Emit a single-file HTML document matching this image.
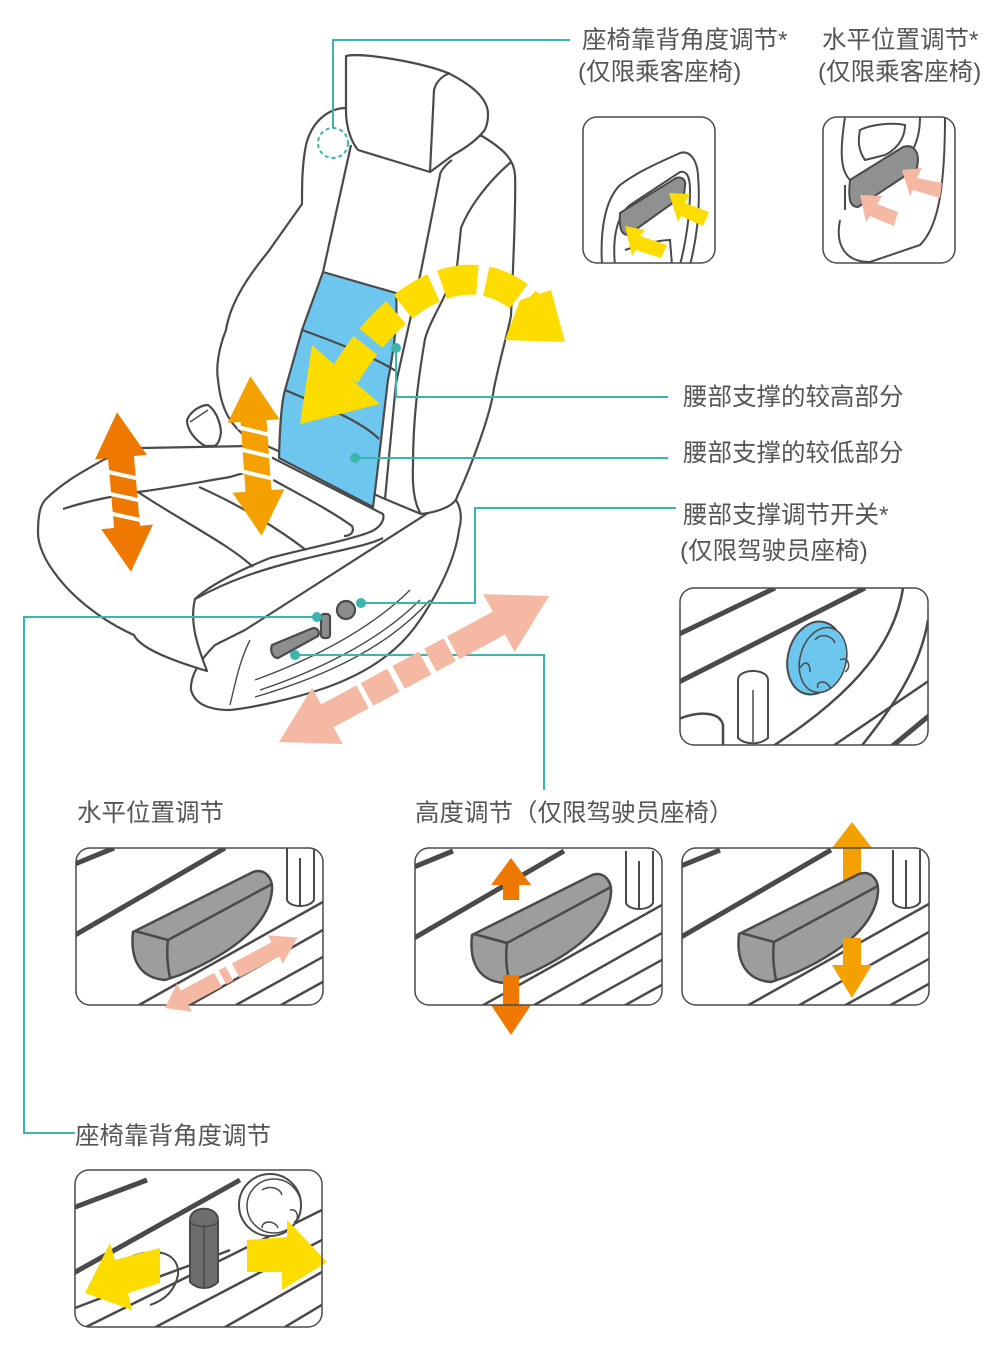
<!DOCTYPE html>
<html><head><meta charset="utf-8"><style>
html,body{margin:0;padding:0;background:#fff;}
svg{display:block;}
text{font-family:"Liberation Sans","Noto Sans CJK SC",sans-serif;fill:#555;font-size:24.5px;}
</style></head><body>
<svg width="1001" height="1348" viewBox="0 0 1001 1348" xmlns="http://www.w3.org/2000/svg">
<defs>
<clipPath id="c1"><rect x="583" y="117" width="132" height="146" rx="14"/></clipPath>
<clipPath id="c2"><rect x="823" y="117" width="132" height="146" rx="14"/></clipPath>
<clipPath id="c3"><rect x="680" y="588" width="248" height="157" rx="14"/></clipPath>
<clipPath id="c4"><rect x="76" y="848" width="247" height="157" rx="14"/></clipPath>
<clipPath id="c5"><rect x="415" y="848" width="247" height="157" rx="14"/></clipPath>
<clipPath id="c6"><rect x="682" y="848" width="247" height="157" rx="14"/></clipPath>
<clipPath id="c7"><rect x="75" y="1170" width="247" height="157" rx="14"/></clipPath>
<g id="lever">
<path d="M133,932 L253,872 C265,868 273,878 272,890 C270,920 240,950 180,975 L165,980 C140,978 130,960 133,932 Z" fill="#9c9d9d" stroke="#4a4a4a" stroke-width="2.5"/>
<path d="M135,931 L168,940 L272,884 M168,940 C166,955 168,968 170,978" fill="none" stroke="#4a4a4a" stroke-width="2.5"/>
</g>
<g id="stripes">
<path d="M70,866 L114,848 M70,938 L225,848" stroke="#4a4a4a" stroke-width="5" fill="none"/>
<path d="M139,1005 L330,898 M190,1005 L330,926 M236,1005 L330,953 M281,1005 L330,978" stroke="#4a4a4a" stroke-width="2.5" fill="none"/>
<path d="M287,848 L287,900 C290,908 310,908 314,900 L314,848 M300,858 L300,905" stroke="#4a4a4a" stroke-width="2" fill="#fff"/>
</g>
</defs>

<!-- seat -->
<g stroke="#4a4a4a" stroke-width="2.2" fill="#fff" stroke-linejoin="round">
<path d="M453,497 C462,505 462,520 459,530 C455,560 440,590 420,620 C400,650 370,672 325,688 C290,700 250,708 230,710 C210,710 195,705 191,690 C190,675 200,660 215,645 L245,630 Z"/>
<path d="M230,705 C236,680 240,660 250,640 M260,690 C320,670 380,640 420,600 M255,697 C330,675 390,645 430,600 M255,680 C310,660 370,630 410,590" fill="none" stroke-width="1.4"/>
<path d="M346,108 C330,108 312,120 306,145 C302,165 302,185 302,204 L268,252 C245,280 230,305 226,330 C218,350 216,368 218,380 C220,400 225,420 245,436 L385,499 L421,514 C440,512 455,505 457,497 C465,480 490,420 494,388 C502,350 511,320 511,315 C514,250 516,200 515,175 C514,160 505,150 482,136 Z"/>
<path d="M351,145 L323,272 M452,160 C445,165 440,172 440,175 L421,271 L396,383 L385,499 M511,162 C490,180 470,205 461,228 L457,267 C445,300 430,320 425,339 C418,380 413,420 413,465 C412,490 415,505 421,514" fill="none"/>
<path d="M346,56 C360,52 420,62 448,73 C470,84 488,98 488,114 C488,122 486,128 484,131 C475,142 462,150 453,155 L430,172 L358,150 C350,140 346,125 346,111 Z"/>
<path d="M430,172 L434,90 C436,82 442,76 450,73" fill="none"/>
<path d="M323,272 L396,293 C398,320 394,350 388,380 C383,420 378,470 373,507 L279,458 C280,420 282,400 285,390 L302,330 Z" fill="#6cc6ee"/>
<path d="M302,330 C330,340 370,355 396,371 M285,390 C320,405 360,420 379,439" fill="none"/>
<path d="M38,533 C38,515 40,505 46,499 C65,480 90,468 103,460 C120,452 135,450 142,448 L249,446 L383,514 C385,520 380,528 370,532 C350,540 300,550 270,558 C240,570 210,585 195,599 C190,620 195,640 207,671 C170,660 140,648 134,635 C100,620 70,595 54,572 C45,560 38,545 38,533 Z"/>
<path d="M63,509 C90,500 120,495 138,492 C170,488 200,482 230,477 C245,472 260,470 268,466 M138,492 C180,520 230,545 253,567 M199,487 C240,505 280,530 306,550 M268,477 C300,495 330,510 352,526 C355,532 350,536 344,536 M195,599 C230,580 260,570 300,560 C340,550 370,545 383,538" fill="none"/>
<path d="M187,420 C190,412 200,405 208,405 C215,410 220,420 221,432 C220,440 218,445 214,446 L205,446 C195,440 187,430 187,420 Z"/>
<path d="M190,422 L208,410" fill="none" stroke-width="1.4"/>
<path d="M272,645 L313,628 C318,628 320,632 318,636 L278,658 C272,658 270,650 272,645 Z" fill="#8c8d8d"/>
<rect x="321" y="614" width="9" height="24" rx="3" fill="#8c8d8d"/>
<circle cx="346" cy="610" r="9" fill="#8c8d8d"/>
</g>

<!-- teal leader lines -->
<g stroke="#3cb5ad" stroke-width="2" fill="none">
<path d="M570,40 H333 V128"/>
<circle cx="333" cy="143" r="15" stroke-dasharray="4 3"/>
<path d="M396,348 V397 H668"/>
<path d="M355,458 H668"/>
<path d="M676,508 H475 V603 H361"/>
<path d="M317,617 H24 V1133 H75"/>
<path d="M295,655 H544 V790"/>
</g>
<g fill="#3cb5ad"><circle cx="396" cy="348" r="5"/><circle cx="355" cy="458" r="5"/><circle cx="361" cy="603" r="5"/><circle cx="317" cy="617" r="5"/><circle cx="295" cy="655" r="5"/></g>

<!-- orange arrows on seat -->
<g transform="translate(124,492) rotate(-5)">
<polygon points="0,-80 26,-35 13,-35 13,35 26,35 0,80 -26,35 -13,35 -13,-35 -26,-35" fill="#ee7800"/>
<path d="M-16,-22 L16,-12 M-16,0 L16,10 M-16,20 L16,30" stroke="#fff" stroke-width="4"/>
</g>
<g transform="translate(256,456) rotate(-4)">
<polygon points="0,-80 26,-35 13,-35 13,35 26,35 0,80 -26,35 -13,35 -13,-35 -26,-35" fill="#f4a100"/>
<path d="M-16,-30 L16,-20 M-16,-8 L16,2 M-16,14 L16,24" stroke="#fff" stroke-width="4"/>
</g>
<!-- yellow arc -->
<path d="M345,375 C390,300 470,240 536,312" fill="none" stroke="#fddc00" stroke-width="30" stroke-dasharray="36 9"/>
<polygon points="312,345 300,424 380,404" fill="#fddc00"/>
<polygon points="551,290 565,342 505,340 520,300" fill="#fddc00"/>
<!-- salmon arrow -->
<g transform="translate(279,742) rotate(-28.4)" fill="#f5b9a3">
<polygon points="0,0 55,-32 55,-13 95,-13 95,13 55,13 55,32"/>
<rect x="100" y="-13" width="30" height="26"/><rect x="136" y="-13" width="30" height="26"/><rect x="172" y="-13" width="22" height="26"/>
<polygon points="198,-13 250,-13 250,-33 307,0 250,33 250,13 198,13"/>
</g>

<!-- labels -->
<text x="582" y="48">座椅靠背角度调节*</text>
<text x="578" y="80">(仅限乘客座椅)</text>
<text x="822" y="48">水平位置调节*</text>
<text x="818" y="80">(仅限乘客座椅)</text>
<text x="683" y="405">腰部支撑的较高部分</text>
<text x="683" y="461">腰部支撑的较低部分</text>
<text x="683" y="523">腰部支撑调节开关*</text>
<text x="680" y="559">(仅限驾驶员座椅)</text>
<text x="77" y="821">水平位置调节</text>
<text x="415" y="821">高度调节（仅限驾驶员座椅）</text>
<text x="75" y="1144">座椅靠背角度调节</text>

<!-- P1 -->
<g clip-path="url(#c1)" stroke="#4a4a4a" stroke-width="2" fill="none">
<path d="M602,265 C600,230 605,200 620,185 C640,170 665,160 680,153 C690,150 697,160 698,175 C700,200 699,230 690,265"/>
<path d="M615,265 C612,235 618,215 630,205 L680,172 C688,170 690,180 690,190 C690,220 685,245 680,265"/>
<path d="M620,213 L676,178 C682,176 686,180 685,186 L684,195 L628,235 C622,235 619,230 620,213 Z" fill="#8f9090"/>
<path d="M625,250 C640,245 660,240 670,240 L672,265" />
</g>
<polygon points="625,226 645,230 640,236 667,245 661,258 636,250 632,256" fill="#fddc00"/>
<polygon points="669,193 690,194 685,203 709,212 703,226 681,216 678,222" fill="#fddc00"/>
<rect x="583" y="117" width="132" height="146" rx="14" fill="none" stroke="#4a4a4a" stroke-width="1.5"/>
<!-- P2 -->
<g clip-path="url(#c2)" stroke="#4a4a4a" stroke-width="2" fill="none">
<path d="M845,117 C840,150 840,170 850,180 L880,175 L905,160 C915,150 920,135 920,117"/>
<path d="M860,130 C870,125 890,122 905,125 C905,140 895,150 885,155 L865,160 C858,150 858,140 860,130 Z"/>
<path d="M840,220 C835,245 845,262 870,262 L920,245 C935,230 945,200 945,117"/>
<path d="M850,180 L903,147 C912,144 918,150 918,160 L917,168 L858,207 C850,207 848,200 850,180 Z" fill="#8f9090"/>
<path d="M845,185 L845,210"/>
</g>
<polygon points="860,195 882,196 877,204 898,212 894,226 870,216 866,222" fill="#f5b9a3"/>
<polygon points="902,170 922,168 917,178 942,183 940,198 913,190 910,196" fill="#f5b9a3"/>
<rect x="823" y="117" width="132" height="146" rx="14" fill="none" stroke="#4a4a4a" stroke-width="1.5"/>

<!-- P3 knob -->
<g clip-path="url(#c3)" fill="none" stroke="#4a4a4a">
<path d="M675,636 L775,588 M675,684 L865,588" stroke-width="5"/>
<path d="M903,588 C895,640 860,690 770,748" stroke-width="2.5"/>
<path d="M928,620 C920,670 890,710 860,748" stroke-width="2.5"/>
<path d="M830,748 L930,680" stroke-width="2.5"/>
<path d="M890,748 L930,715" stroke-width="5"/>
<path d="M676,720 C700,710 720,712 723,725 L723,748" stroke-width="2.5"/>
<path d="M738,680 C738,668 768,668 768,680 L768,738 C760,745 745,745 738,738 Z" stroke-width="2" fill="#fff"/>
<path d="M753,690 L753,742" stroke-width="1.5"/>
<ellipse cx="815" cy="658" rx="27" ry="37" transform="rotate(15 815 658)" fill="#6cc6ee" stroke-width="2"/>
<ellipse cx="823" cy="660" rx="23" ry="33" transform="rotate(15 823 660)" fill="#6cc6ee" stroke-width="1.5"/>
<path d="M815,640 C820,633 832,635 835,643 M840,660 C848,655 852,668 845,672 M818,688 C815,680 828,680 830,688 M800,668 C805,660 810,662 810,672" stroke-width="1.5"/>
</g>
<rect x="680" y="588" width="248" height="157" rx="14" fill="none" stroke="#4a4a4a" stroke-width="1.5"/>

<!-- P4 -->
<g clip-path="url(#c4)"><use href="#stripes"/><use href="#lever"/></g>
<rect x="76" y="848" width="247" height="157" rx="14" fill="none" stroke="#4a4a4a" stroke-width="1.5"/>
<g transform="translate(165,1008) rotate(-28)" fill="#f5b9a3">
<polygon points="0,0 22,-16 22,-8 60,-8 60,8 22,8 22,16"/>
<rect x="65" y="-8" width="8" height="16"/>
<polygon points="80,-8 125,-8 125,-16 150,0 125,16 125,8 80,8"/>
</g>
<!-- P5 -->
<g clip-path="url(#c5)"><g transform="translate(339,3)"><use href="#stripes"/></g></g>
<polygon points="511,858 531,885 519,885 519,900 503,900 503,885 491,885" fill="#ee7800"/>
<g transform="translate(339,3)"><use href="#lever"/></g>
<polygon points="503,975 519,975 519,1005 531,1005 511,1035 491,1005 503,1005" fill="#ee7800"/>
<rect x="415" y="848" width="247" height="157" rx="14" fill="none" stroke="#4a4a4a" stroke-width="1.5"/>
<!-- P6 -->
<g clip-path="url(#c6)"><g transform="translate(606,2)"><use href="#stripes"/></g></g>
<polygon points="852,822 872,848 861,848 861,880 843,880 843,848 832,848" fill="#f4a100"/>
<g transform="translate(606,2)"><use href="#lever"/></g>
<polygon points="843,938 861,938 861,965 872,965 852,998 832,965 843,965" fill="#f4a100"/>
<rect x="682" y="848" width="247" height="157" rx="14" fill="none" stroke="#4a4a4a" stroke-width="1.5"/>

<!-- P7 -->
<g clip-path="url(#c7)" fill="none" stroke="#4a4a4a">
<path d="M70,1209 L147,1180 M70,1275 L240,1180" stroke-width="5"/>
<path d="M70,1310 C120,1290 180,1270 230,1250 M80,1330 L322,1210 M150,1330 L322,1240 M220,1330 L322,1272 M280,1330 L330,1300" stroke-width="2.5"/>
<path d="M120,1262 C150,1245 180,1250 178,1275 C175,1290 165,1300 150,1305" stroke-width="2"/>
<circle cx="270" cy="1205" r="31" stroke-width="2" fill="#fff"/>
<circle cx="274" cy="1206" r="27" stroke-width="1.5"/>
<path d="M262,1190 C270,1185 280,1188 282,1195 M290,1210 C298,1208 300,1220 294,1222 M262,1228 C262,1220 275,1220 278,1228" stroke-width="1.5"/>
<path d="M190,1220 C190,1205 218,1205 218,1220 L218,1282 C210,1290 198,1290 190,1282 Z" fill="#6d6e6e" stroke-width="2"/>
<path d="M204,1225 L204,1287 M190,1222 C195,1228 213,1228 218,1222" stroke-width="1.5"/>
</g>
<polygon points="160,1248 160,1283 128,1293 132,1310 85,1293 110,1243 115,1260" fill="#fddc00"/>
<polygon points="247,1240 287,1237 287,1220 327,1262 282,1290 282,1272 247,1272" fill="#fddc00"/>
<rect x="75" y="1170" width="247" height="157" rx="14" fill="none" stroke="#4a4a4a" stroke-width="1.5"/>
</svg>
</body></html>
